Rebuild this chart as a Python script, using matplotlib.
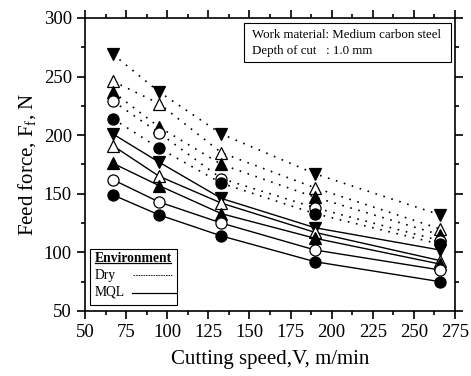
"""
Feed force vs cutting speed under dry and MQL cutting, medium carbon steel.
Output: out.png
"""
import matplotlib
matplotlib.use("Agg")
import matplotlib.pyplot as plt
from matplotlib.lines import Line2D
from matplotlib.patches import Rectangle
from matplotlib.ticker import MultipleLocator

plt.rcParams["font.family"] = ["Liberation Serif", "DejaVu Serif"]
plt.rcParams["mathtext.fontset"] = "custom"
plt.rcParams["mathtext.rm"] = "Liberation Serif"
plt.rcParams["mathtext.it"] = "Liberation Serif:italic"

speed = [67, 95, 133, 190, 266]

# Dry cutting (dotted)
dry_down = [269, 237, 201, 167, 132]
dry_up_open = [246, 227, 185, 155, 120]
dry_up = [237, 207, 175, 147, 115]
dry_circle_open = [229, 202, 163, 138, 110]
dry_circle = [214, 189, 159, 133, 107]

# MQL cutting (solid)
mql_down = [201, 177, 146, 121, 102]
mql_up_open = [191, 165, 142, 117, 93]
mql_up = [176, 157, 133, 112, 90]
mql_circle_open = [162, 143, 125, 102, 85]
mql_circle = [149, 132, 114, 92, 75]

# (marker, filled)
STYLES = [("v", True), ("^", False), ("^", True), ("o", False), ("o", True)]

dry_series = [dry_down, dry_up_open, dry_up, dry_circle_open, dry_circle]
mql_series = [mql_down, mql_up_open, mql_up, mql_circle_open, mql_circle]

fig = plt.figure(figsize=(4.71, 3.76), dpi=100)
ax = fig.add_axes([0.1805, 0.1729, 0.7855, 0.7793])

for series, ls, lw in [(dry_series, (0, (1, 4)), 1.2), (mql_series, "-", 1.0)]:
    for vals, (mk, filled) in zip(series, STYLES):
        ms = 9 if mk != "o" else 8
        ax.plot(speed, vals, color="black", linestyle=ls, linewidth=lw,
                marker=mk, markersize=ms,
                markerfacecolor="black" if filled else "white",
                markeredgecolor="black", markeredgewidth=0.9, zorder=3)

ax.set_xlim(50, 275)
ax.set_ylim(50, 300)
ax.xaxis.set_major_locator(MultipleLocator(25))
ax.xaxis.set_minor_locator(MultipleLocator(12.5))
ax.yaxis.set_major_locator(MultipleLocator(50))
ax.yaxis.set_minor_locator(MultipleLocator(25))
ax.tick_params(which="both", direction="out", top=True, right=True,
               labeltop=False, labelright=False, width=1.2)
ax.tick_params(which="major", length=6, labelsize=13.5)
ax.tick_params(which="minor", length=3)
for sp in ax.spines.values():
    sp.set_linewidth(1.2)

ax.set_xlabel("Cutting speed,V, m/min", fontsize=15, labelpad=6)
ax.set_ylabel(r"Feed force, F$_{\rm f}$, N", fontsize=15, labelpad=4)

# Info box, upper right
ax.add_patch(Rectangle((0.43, 0.851), 0.559, 0.133, transform=ax.transAxes,
                       facecolor="white", edgecolor="black", linewidth=0.8, zorder=5))
ax.text(0.452, 0.943, "Work material: Medium carbon steel", transform=ax.transAxes,
        fontsize=9.3, va="center", ha="left", zorder=6)
ax.text(0.452, 0.886, "Depth of cut   : 1.0 mm", transform=ax.transAxes,
        fontsize=9.3, va="center", ha="left", zorder=6)

# Environment key, lower left
ax.add_patch(Rectangle((0.0135, 0.0205), 0.235, 0.1915, transform=ax.transAxes,
                       facecolor="white", edgecolor="black", linewidth=0.8, zorder=5))
ax.text(0.027, 0.180, "Environment", transform=ax.transAxes, fontsize=9.8,
        fontweight="bold", va="center", ha="left", zorder=6)
ax.add_line(Line2D([0.027, 0.232], [0.164, 0.164], transform=ax.transAxes,
                   color="black", linewidth=0.9, zorder=6))
ax.text(0.027, 0.122, "Dry", transform=ax.transAxes, fontsize=9.8,
        va="center", ha="left", zorder=6)
ax.add_line(Line2D([0.129, 0.234], [0.122, 0.122], transform=ax.transAxes,
                   color="black", linewidth=0.6, linestyle=(0, (2, 1)), zorder=6))
ax.text(0.027, 0.064, "MQL", transform=ax.transAxes, fontsize=9.8,
        va="center", ha="left", zorder=6)
ax.add_line(Line2D([0.126, 0.246], [0.060, 0.060], transform=ax.transAxes,
                   color="black", linewidth=0.9, zorder=6))

fig.savefig("out.png", dpi=100)
